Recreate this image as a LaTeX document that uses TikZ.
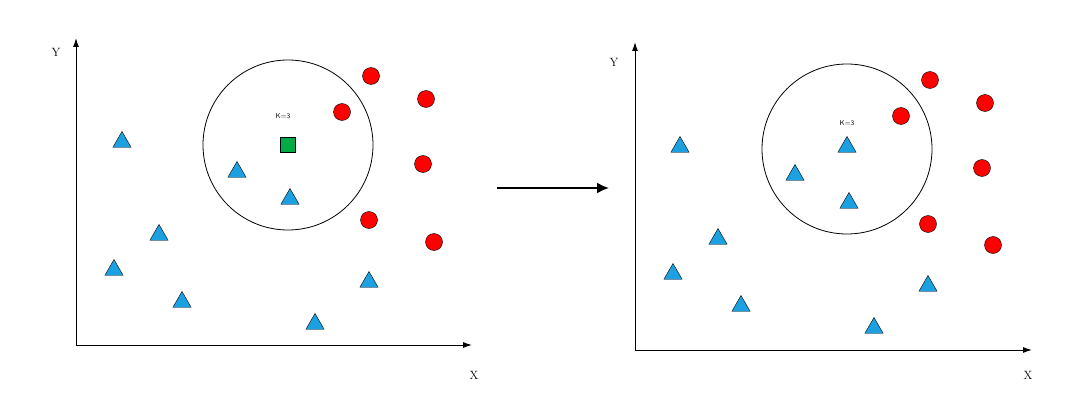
\documentclass[tikz,border=0pt]{standalone}
\usetikzlibrary{shapes.geometric,arrows.meta}
\begin{document}
\begin{tikzpicture}[x=1pt,y=-1pt,
 tri/.style={regular polygon,regular polygon sides=3,draw=black,fill={rgb,255:red,27;green,161;blue,226},minimum size=21pt,inner sep=0pt},
 dot/.style={circle,draw=black,fill=red,minimum size=17pt,inner sep=0pt},
 sq/.style={rectangle,draw=black,fill={rgb,255:red,0;green,170;blue,70},minimum size=15pt,inner sep=0pt},
 axis/.style={line width=1pt,-{Latex[length=9pt,width=6pt]}},
 lab/.style={font=\large}]
\useasboundingbox (0,0) rectangle (1080,420);
% left panel
\coordinate (o1) at (76,345); \coordinate (y1) at (76,38); \coordinate (x1) at (472,345);
\draw[axis] (o1) -- (y1); \draw[axis] (o1) -- (x1);
\node[lab] (Y1) at (56,52) {Y}; \node[lab] (X1) at (474,375) {X};
\node[circle,draw,line width=0.8pt,minimum size=170pt] (c1) at (288,145) {};
\node[font=\sffamily\scriptsize] (k1) at (283,116) {K=3};
\node[sq] (s1) at (288,145) {};
\foreach \p in {(371,76),(342,112),(426,99),(423,164),(369,220),(434,242)} \node[dot] at \p {};
\foreach \p in {(122,142),(237,172),(290,199),(159,235),(114,270),(182,302),(369,282),(315,324)} \node[tri] at \p {};
% arrow
\coordinate (a1) at (497,188); \coordinate (a2) at (609,188);
\draw[line width=2pt,-{Latex[length=12pt,width=11pt]}] (a1) -- (a2);
% right panel
\coordinate (o2) at (635,350); \coordinate (y2) at (635,42); \coordinate (x2) at (1032,350);
\draw[axis] (o2) -- (y2); \draw[axis] (o2) -- (x2);
\node[lab] (Y2) at (614,62) {Y}; \node[lab] (X2) at (1028,375) {X};
\node[circle,draw,line width=0.8pt,minimum size=170pt] (c2) at (847,149) {};
\node[font=\sffamily\scriptsize] (k2) at (847,123) {K=3};
\foreach \p in {(930,80),(901,116),(985,103),(982,168),(928,224),(993,245)} \node[dot] at \p {};
\foreach \p in {(847,147),(680,147),(795,175),(849,203),(718,239),(673,274),(741,306),(928,286),(874,328)} \node[tri] at \p {};
\end{tikzpicture}
\end{document}
